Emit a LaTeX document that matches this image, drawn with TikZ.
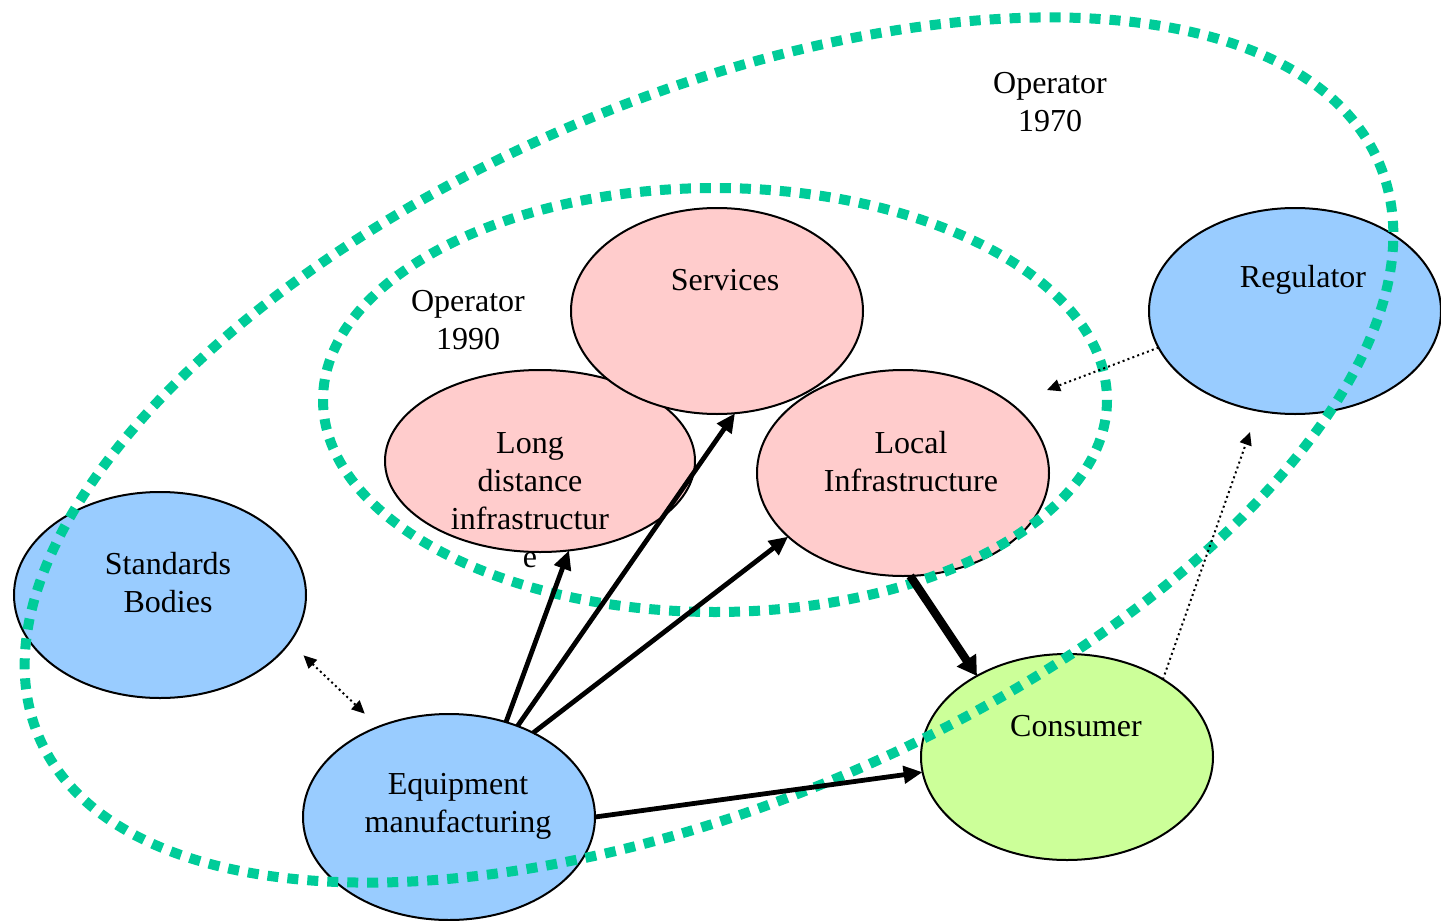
\documentclass[tikz,border=0pt]{standalone}
\usepackage{fontspec}
\setmainfont{Liberation Serif}
\usetikzlibrary{arrows.meta,shapes.geometric}
\definecolor{pinkf}{HTML}{FFCCCC}
\definecolor{bluef}{HTML}{99CCFF}
\definecolor{greenf}{HTML}{CCFF99}
\definecolor{teal}{HTML}{00CC99}
\begin{document}
\begin{tikzpicture}[x=0.5pt,y=-0.5pt,
  blob/.style={ellipse,draw=black,line width=1pt,minimum width=146pt,minimum height=103pt,inner sep=0pt,outer sep=0pt},
  txt/.style={align=center,font=\fontsize{16}{19}\selectfont,inner sep=0pt},
  tealdash/.style={draw=teal,line width=5pt,dash pattern=on 5.5pt off 4.5pt},
  arr/.style={line width=2.4pt,-{Triangle[length=9.5pt,width=8.5pt]}},
  bigarr/.style={line width=4.2pt,-{Triangle[length=9.5pt,width=11pt]}},
  dotarr/.style={line width=1pt,dash pattern=on 1pt off 1.6pt,-{Triangle[length=6.5pt,width=6pt]}},
  dotarr2/.style={line width=1pt,dash pattern=on 1pt off 1.6pt,{Triangle[length=6.5pt,width=6pt]}-{Triangle[length=6.5pt,width=6pt]}}
]
\useasboundingbox (0,0) rectangle (1441,921);
\fill[white] (0,0) rectangle (1441,921);

% ellipses
\node[blob,fill=pinkf,minimum width=155pt,minimum height=91pt] (ld) at (540,461) {};
\node[blob,fill=pinkf] (serv) at (717,311) {};
\node[blob,fill=pinkf] (loc) at (903,473) {};
\node[blob,fill=bluef] (reg) at (1295,311) {};
\node[blob,fill=bluef] (std) at (160,595) {};
\node[blob,fill=bluef] (eq) at (449,817) {};
\node[blob,fill=greenf] (cons) at (1067,757) {};

% operator boundaries
\draw[tealdash] (709,450) ellipse [x radius=729, y radius=352, rotate=23.2];
\draw[tealdash] (715,400) ellipse [x radius=392, y radius=212];

% free ends
\coordinate (regend) at (1047,390);
\coordinate (consend) at (1250,432);

% connectors
\draw[arr] (eq.59) -- (ld.-72);
\draw[arr] (eq.53) -- (serv.-80);
\draw[arr] (eq.45) -- (loc.209);
\draw[arr] (eq.0) -- (cons.186);
\draw[bigarr] (loc.-86) -- (cons.138);
\draw[dotarr] (reg.195) -- (regend);
\draw[dotarr] (cons.39) -- (consend);
\draw[dotarr2,shorten <=9.5pt,shorten >=9.5pt] (std.-20.4) -- (eq.128.8);

% texts
\node[txt] (t-serv) at (725,280) {Services};
\node[txt] (t-reg) at (1303,280) {Regulator};
\node[txt] (t-cons) at (1076,726) {Consumer};
\node[txt] (t-ld) at (530,500) {Long\\distance\\infrastructur\\e};
\node[txt] (t-loc) at (911,462) {Local\\Infrastructure};
\node[txt] (t-std) at (168,583) {Standards\\Bodies};
\node[txt] (t-eq) at (458,806) {Equipment\\manufacturing};
\node[txt] (t-op70) at (1050,102) {Operator\\1970};
\node[txt] (t-op90) at (468,320) {Operator\\1990};
\end{tikzpicture}
\end{document}
